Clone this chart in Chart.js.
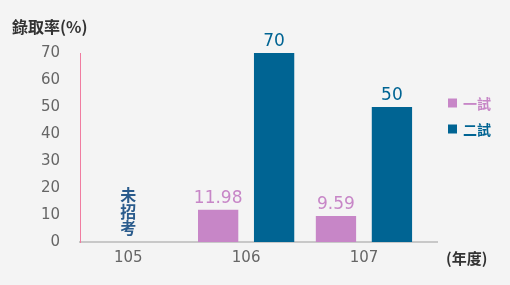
<!DOCTYPE html>
<html lang="zh-Hant">
<head>
  <meta charset="UTF-8">
  <title>錄取率</title>
  <script src="https://cdn.jsdelivr.net/npm/chart.js"></script>
  <style>
    html, body { margin: 0; padding: 0; background: #f4f4f4; }
    #wrap { width: 510px; height: 285px; }
  </style>
</head>
<body>
  <div id="wrap"><canvas id="chartCanvas" width="510" height="285"></canvas></div>

  <script>
    // chart data
    const years = [105, 106, 107];
    const firstExam = [null, 11.98, 9.59];
    const secondExam = [null, 70, 50];
    const seriesNames = ['一試', '二試'];
    const yTicks = [0, 10, 20, 30, 40, 50, 60, 70];
    const noExamYear = 105;
    const noExamText = '未招考';
    const yTitle = '錄取率(%)';
    const xTitle = '(年度)';

    const PINK = '#c786c7';
    const BLUE = '#006493';
    const NUM_FONT = '"DejaVu Sans", Verdana, sans-serif';
    const CJK_FONT = '"Noto Sans CJK TC", "Noto Sans", sans-serif';

    const toPoints = vals => years.map((yr, i) => ({ x: yr, y: vals[i] }));

    // value labels, titles, legend and the "未招考" note
    const extras = {
      id: 'extras',
      afterDatasetsDraw(chart) {
        const ctx = chart.ctx;
        const area = chart.chartArea;
        ctx.save();

        // value labels above bars
        ctx.font = '17px ' + NUM_FONT;
        ctx.textAlign = 'center';
        ctx.textBaseline = 'bottom';
        chart.data.datasets.forEach((ds, di) => {
          const meta = chart.getDatasetMeta(di);
          meta.data.forEach((el, i) => {
            const v = ds.data[i].y;
            if (v === null) return;
            ctx.fillStyle = ds.backgroundColor;
            ctx.fillText(String(v), el.x, el.y - 3);
          });
        });

        // 未招考, written vertically
        const nx = chart.scales.x.getPixelForValue(noExamYear);
        ctx.font = 'bold 16px ' + CJK_FONT;
        ctx.fillStyle = '#2a5b8c';
        ctx.textBaseline = 'middle';
        const chars = Array.from(noExamText);
        chars.forEach((c, i) => {
          ctx.fillText(c, nx, area.bottom - 14 - (chars.length - 1 - i) * 16.5);
        });

        // axis titles
        ctx.fillStyle = '#333';
        ctx.font = 'bold 16px ' + CJK_FONT;
        ctx.textAlign = 'left';
        ctx.fillText(yTitle, 12, 27);
        ctx.font = 'bold 15px ' + CJK_FONT;
        ctx.fillText(xTitle, area.right + 9, 258);

        // legend
        ctx.font = 'bold 14px ' + CJK_FONT;
        chart.data.datasets.forEach((ds, di) => {
          const cy = 103 + di * 26;
          ctx.fillStyle = ds.backgroundColor;
          ctx.fillRect(area.right + 11, cy - 4.5, 9, 9);
          ctx.fillText(ds.label, area.right + 26, cy + 1);
        });
        ctx.restore();
      }
    };

    new Chart(document.getElementById('chartCanvas'), {
      type: 'bar',
      data: {
        datasets: [
          { label: seriesNames[0], data: toPoints(firstExam), backgroundColor: PINK },
          { label: seriesNames[1], data: toPoints(secondExam), backgroundColor: BLUE }
        ]
      },
      options: {
        responsive: false,
        animation: false,
        devicePixelRatio: 1,
        categoryPercentage: 0.95,
        barPercentage: 0.72,
        layout: { padding: { top: 53, right: 73, left: 0, bottom: 0 } },
        plugins: {
          legend: { display: false },
          tooltip: { enabled: false }
        },
        scales: {
          x: {
            type: 'linear',
            offset: false,
            min: 104.59,
            max: 107.62,
            grid: { display: false, drawTicks: false },
            border: { color: '#c8c8c8', width: 2 },
            ticks: {
              stepSize: 1,
              includeBounds: false,
              padding: 7,
              color: '#666',
              font: { size: 15, family: NUM_FONT },
              callback: v => (years.includes(v) ? String(v) : '')
            },
            afterFit: s => { s.height = 43; }
          },
          y: {
            min: yTicks[0],
            max: yTicks[yTicks.length - 1],
            grid: { display: false, drawTicks: false },
            border: { color: '#f07ca0', width: 1 },
            ticks: {
              stepSize: 10,
              padding: 20,
              color: '#666',
              font: { size: 15, family: NUM_FONT }
            },
            afterFit: s => { s.width = 80; }
          }
        }
      },
      plugins: [extras]
    });
  </script>
</body>
</html>
